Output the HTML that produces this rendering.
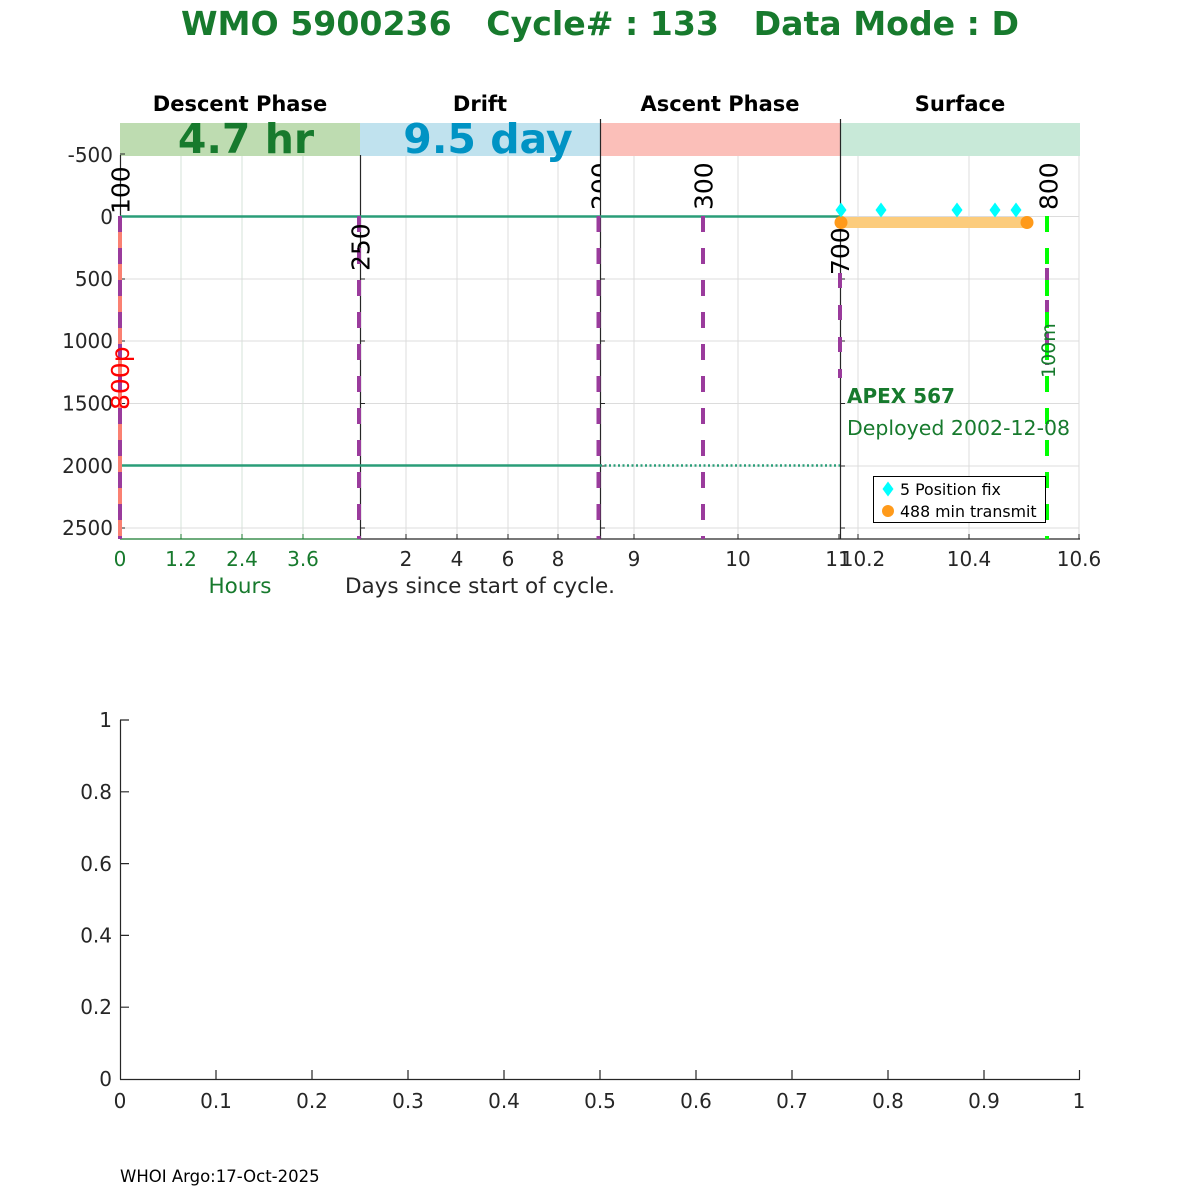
<!DOCTYPE html>
<html><head><meta charset="utf-8"><style>
html,body{margin:0;padding:0;background:#fff;}
svg{display:block;}
</style></head><body>
<svg width="1200" height="1200" viewBox="0 0 1200 1200" xmlns="http://www.w3.org/2000/svg" font-family="'DejaVu Sans','Liberation Sans',sans-serif">
<defs>
<clipPath id="c200" clipPathUnits="userSpaceOnUse"><rect x="560" y="150" width="40" height="80"/></clipPath>
</defs>
<rect width="1200" height="1200" fill="#fff"/>

<!-- Title -->
<text x="600" y="35" text-anchor="middle" font-weight="bold" font-size="33" fill="#177a2d" xml:space="preserve" textLength="838" lengthAdjust="spacingAndGlyphs">WMO 5900236   Cycle# : 133   Data Mode : D</text>

<!-- Phase titles -->
<g font-weight="bold" font-size="21" fill="#000" text-anchor="middle">
<text x="240" y="111">Descent Phase</text>
<text x="480" y="111">Drift</text>
<text x="720" y="111">Ascent Phase</text>
<text x="960" y="111">Surface</text>
</g>

<!-- grid vertical -->
<g stroke-width="1">
<g stroke="#d4e3da">
<line x1="181" y1="156" x2="181" y2="539"/>
<line x1="242" y1="156" x2="242" y2="539"/>
<line x1="303" y1="156" x2="303" y2="539"/>
</g>
<g stroke="#dcdcdc">
<line x1="406" y1="156" x2="406" y2="539"/>
<line x1="457" y1="156" x2="457" y2="539"/>
<line x1="508" y1="156" x2="508" y2="539"/>
<line x1="558" y1="156" x2="558" y2="539"/>
<line x1="634" y1="156" x2="634" y2="539"/>
<line x1="738" y1="156" x2="738" y2="539"/>
<line x1="858" y1="156" x2="858" y2="539"/>
<line x1="969" y1="156" x2="969" y2="539"/>
<line x1="1079" y1="123" x2="1079" y2="539"/>
</g>
<!-- grid horizontal -->
<g stroke="#dcdcdc">
<line x1="120" y1="216.5" x2="1079" y2="216.5"/>
<line x1="120" y1="279" x2="1079" y2="279"/>
<line x1="120" y1="341" x2="1079" y2="341"/>
<line x1="120" y1="403.5" x2="1079" y2="403.5"/>
<line x1="120" y1="466" x2="1079" y2="466"/>
<line x1="120" y1="528" x2="1079" y2="528"/>
</g>
</g>

<!-- phase bars -->
<rect x="120" y="123" width="240" height="33" fill="#bedcb1"/>
<rect x="360" y="123" width="240" height="33" fill="#c0e2ee"/>
<rect x="600" y="123" width="240" height="33" fill="#fbbfb9"/>
<rect x="840" y="123" width="240" height="33" fill="#c8e9d8"/>

<text x="246" y="153" text-anchor="middle" font-weight="bold" font-size="41" fill="#177a2d">4.7 hr</text>
<text x="488" y="153" text-anchor="middle" font-weight="bold" font-size="41" fill="#0093c4">9.5 day</text>

<!-- axes lines -->
<g stroke="#262626" stroke-width="1.2">
<line x1="120.5" y1="155" x2="120.5" y2="539"/>
<line x1="360.5" y1="155" x2="360.5" y2="539"/>
<line x1="600.5" y1="119" x2="600.5" y2="539"/>
<line x1="840.5" y1="119" x2="840.5" y2="539"/>
<line x1="360" y1="539" x2="1080" y2="539"/>
</g>
<line x1="120" y1="539" x2="360" y2="539" stroke="#177a2d" stroke-width="1.2"/>
<!-- y ticks on panel axes -->
<g stroke="#262626" stroke-width="1">
<path d="M120 279h5M120 341h5M120 403.5h5M120 466h5M120 528h5M120 216.5h5M120 154h5
M360 279h5M360 341h5M360 403.5h5M360 466h5M360 528h5
M600 279h5M600 341h5M600 403.5h5M600 466h5M600 528h5
M840 279h5M840 341h5M840 403.5h5M840 466h5M840 528h5"/>
<path d="M406 539v-5M457 539v-5M508 539v-5M558 539v-5M634 539v-5M738 539v-5M839 539v-5M858 539v-5M969 539v-5M1079 539v-5"/>
</g>
<g stroke="#177a2d" stroke-width="1">
<path d="M181 539v-5M242 539v-5M303 539v-5"/>
</g>

<!-- teal horizontal lines -->
<line x1="120" y1="216.5" x2="840" y2="216.5" stroke="#2a9d78" stroke-width="2.5"/>
<line x1="120" y1="465.5" x2="600" y2="465.5" stroke="#2a9d78" stroke-width="2.5"/>
<line x1="600" y1="465.5" x2="840" y2="465.5" stroke="#2a9d78" stroke-width="2.5" stroke-dasharray="2 2.5"/>

<!-- salmon + purple lines -->
<line x1="120" y1="216" x2="120" y2="539" stroke="#fa8072" stroke-width="4"/>
<g stroke="#9a3b9c" stroke-width="4" stroke-dasharray="16 16">
<line x1="120" y1="216" x2="120" y2="539"/>
<line x1="359" y1="216" x2="359" y2="539"/>
<line x1="598.5" y1="216" x2="598.5" y2="539"/>
<line x1="703" y1="216" x2="703" y2="539"/>
<line x1="840" y1="273" x2="840" y2="378" stroke-dasharray="15 17"/>
<line x1="1047" y1="265" x2="1047" y2="365" stroke-dasharray="16 16" stroke-dashoffset="-3"/>
</g>
<!-- green dashed line -->
<line x1="1047" y1="216" x2="1047" y2="539" stroke="#00ff00" stroke-width="4" stroke-dasharray="16 16"/>

<!-- y tick labels -->
<g font-size="20" fill="#262626" text-anchor="end">
<text x="113" y="162">-500</text>
<text x="113" y="224">0</text>
<text x="113" y="286">500</text>
<text x="113" y="348">1000</text>
<text x="113" y="410.5">1500</text>
<text x="113" y="473">2000</text>
<text x="113" y="535">2500</text>
</g>

<!-- x tick labels -->
<g font-size="20" text-anchor="middle">
<g fill="#177a2d">
<text x="120" y="566">0</text>
<text x="181" y="566">1.2</text>
<text x="242" y="566">2.4</text>
<text x="303" y="566">3.6</text>
</g>
<g fill="#262626">
<text x="406" y="566">2</text>
<text x="457" y="566">4</text>
<text x="508" y="566">6</text>
<text x="558" y="566">8</text>
<text x="634" y="566">9</text>
<text x="738" y="566">10</text>
<text x="838" y="566">11</text>
<text x="863" y="566">10.2</text>
<text x="969" y="566">10.4</text>
<text x="1079" y="566">10.6</text>
</g>
</g>
<text x="240" y="593" text-anchor="middle" font-size="21.5" fill="#177a2d">Hours</text>
<text x="480" y="593" text-anchor="middle" font-size="21.5" fill="#262626">Days since start of cycle.</text>

<!-- rotated labels -->
<g font-size="25" fill="#000">
<text transform="translate(129.5,214) rotate(-90)">100</text>
<text transform="translate(369.5,271) rotate(-90)">250</text>
<g clip-path="url(#c200)"><text transform="translate(609.5,210) rotate(-90)">200</text></g>
<text transform="translate(712.5,210) rotate(-90)">300</text>
<text transform="translate(849,275) rotate(-90)">700</text>
<text transform="translate(1057.5,210) rotate(-90)">800</text>
</g>
<text transform="translate(129,410) rotate(-90)" font-size="25" fill="#ff0000">800p</text>
<text transform="translate(1055,378) rotate(-90)" font-size="19" fill="#177a2d">100m</text>

<!-- surface transmit bar -->
<line x1="841" y1="222.5" x2="1027" y2="222.5" stroke="#fccc7c" stroke-width="11"/>
<circle cx="841" cy="222.5" r="6.5" fill="#ff9a1a"/>
<circle cx="1027" cy="222.5" r="6.5" fill="#ff9a1a"/>
<!-- position fixes -->
<g fill="#00ffff">
<path d="M841 202.5l5.5 7.5-5.5 7.5-5.5-7.5z"/>
<path d="M881 202.5l5.5 7.5-5.5 7.5-5.5-7.5z"/>
<path d="M957 202.5l5.5 7.5-5.5 7.5-5.5-7.5z"/>
<path d="M995 202.5l5.5 7.5-5.5 7.5-5.5-7.5z"/>
<path d="M1016 202.5l5.5 7.5-5.5 7.5-5.5-7.5z"/>
</g>

<!-- float info -->
<text x="847" y="403" font-weight="bold" font-size="20" fill="#177a2d">APEX 567</text>
<text x="847" y="435" font-size="20.5" fill="#177a2d">Deployed 2002-12-08</text>

<!-- legend -->
<rect x="873.5" y="476.5" width="172" height="46" fill="#fff" stroke="#000" stroke-width="1"/>
<path d="M888 481.5l5.5 7.5-5.5 7.5-5.5-7.5z" fill="#00ffff"/>
<circle cx="888" cy="511" r="6" fill="#ff9a1a"/>
<g font-size="15.8" fill="#000">
<text x="900" y="495">5 Position fix</text>
<text x="900" y="517">488 min transmit</text>
</g>

<!-- lower chart -->
<g stroke="#262626" stroke-width="1.2" fill="none">
<line x1="120.5" y1="720" x2="120.5" y2="1079.5"/>
<line x1="120" y1="1079.5" x2="1080" y2="1079.5"/>
<path d="M120 720h9M120 791.8h9M120 863.6h9M120 935.4h9M120 1007.2h9
M216 1079v-9M312 1079v-9M408 1079v-9M504 1079v-9M600 1079v-9M696 1079v-9M792 1079v-9M888 1079v-9M984 1079v-9M1079.5 1079v-9"/>
</g>
<g font-size="20" fill="#262626" text-anchor="end">
<text x="112" y="727">1</text>
<text x="112" y="799">0.8</text>
<text x="112" y="871">0.6</text>
<text x="112" y="942.5">0.4</text>
<text x="112" y="1014">0.2</text>
<text x="112" y="1086">0</text>
</g>
<g font-size="20" fill="#262626" text-anchor="middle">
<text x="120" y="1108">0</text>
<text x="216" y="1108">0.1</text>
<text x="312" y="1108">0.2</text>
<text x="408" y="1108">0.3</text>
<text x="504" y="1108">0.4</text>
<text x="600" y="1108">0.5</text>
<text x="696" y="1108">0.6</text>
<text x="792" y="1108">0.7</text>
<text x="888" y="1108">0.8</text>
<text x="984" y="1108">0.9</text>
<text x="1079" y="1108">1</text>
</g>

<text x="120" y="1182" font-size="16.5" fill="#000">WHOI Argo:17-Oct-2025</text>
</svg>
</body></html>
